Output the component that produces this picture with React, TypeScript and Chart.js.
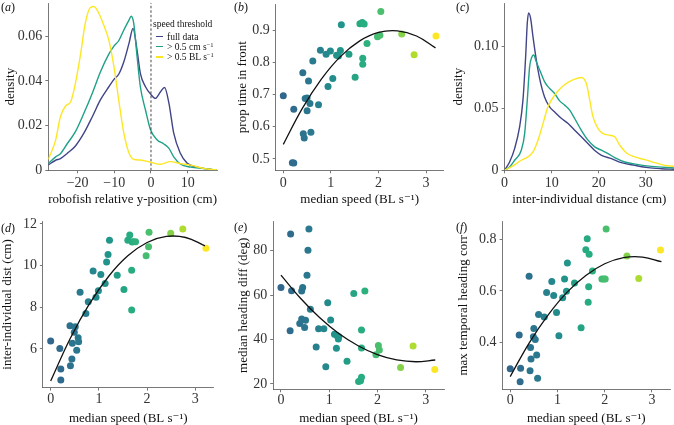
import React, { useEffect, useRef } from "react";
import { Chart, registerables } from "chart.js";

Chart.register(...registerables);

const SERIF = "'Liberation Serif', 'Times New Roman', 'DejaVu Serif', serif";

// ---------------- panel (a): robofish relative y-position densities
const relPosFull = [-28, -26.0, -24.7, -22.8, -20.6, -18.3, -16.0, -13.8, -11.5, -10.1, -8.8, -7.4, -6.0, -4.9, -3.8, -2.9, -1.5, -0.1, 1.2, 2.6, 3.7, 4.9, 6.2, 8.0, 9.9, 12.6, 17.1, 18];
const densRelPosFull = [0.0024, 0.0045, 0.0052, 0.0076, 0.0109, 0.0166, 0.024, 0.0315, 0.0374, 0.0407, 0.043, 0.0486, 0.0568, 0.0635, 0.0538, 0.0434, 0.0374, 0.0341, 0.0322, 0.0352, 0.0371, 0.03, 0.0166, 0.0076, 0.0031, 0.0014, 0.0003, 0.0002];
const relPosCm = [-28, -26.0, -24.7, -22.8, -20.6, -18.3, -16.0, -13.8, -11.5, -10.1, -8.8, -7.4, -6.0, -5.4, -4.7, -3.8, -2.9, -1.5, -0.1, 1.7, 3.5, 4.9, 6.2, 8.0, 10.8, 14.4, 17.1, 18];
const densRelPosCm = [0.0031, 0.006, 0.0074, 0.012, 0.0173, 0.0255, 0.0345, 0.044, 0.052, 0.0556, 0.058, 0.0628, 0.0672, 0.069, 0.0658, 0.051, 0.0374, 0.027, 0.018, 0.0136, 0.0118, 0.0098, 0.006, 0.0028, 0.0014, 0.0008, 0.0003, 0.0002];
const relPosBL = [-28, -26.0, -24.7, -23.3, -21.9, -20.6, -19.2, -17.9, -16.5, -15.6, -14.2, -12.9, -11.5, -10.1, -8.8, -7.4, -6.0, -4.7, -2.9, -0.1, 2.6, 5.3, 8.0, 10.8, 14.4, 17.1, 18];
const densRelPosBL = [0.0049, 0.0135, 0.024, 0.0288, 0.0307, 0.039, 0.052, 0.066, 0.0729, 0.0733, 0.0702, 0.065, 0.0583, 0.0464, 0.0315, 0.0166, 0.0077, 0.0049, 0.0046, 0.0036, 0.0027, 0.0039, 0.003, 0.0023, 0.0008, 0.0003, 0.0002];
const xTicksA = [-20, -10, 0, 10];
const xLabelsA = ["\u221220", "\u221210", "0", "10"];
const yTicksA = [0, 0.02, 0.04, 0.06];
const yLabelsA = ["0", "0.02", "0.04", "0.06"];
const thresholdLine = [0, 0.0749];

// ---------------- panel (b): proportion of time in front
const speedB = [0.0, 0.19, 0.22, 0.22, 0.41, 0.42, 0.44, 0.46, 0.5, 0.5, 0.53, 0.56, 0.58, 0.62, 0.74, 0.78, 0.9, 0.94, 0.99, 1.04, 1.12, 1.16, 1.2, 1.22, 1.38, 1.51, 1.61, 1.66, 1.7, 1.67, 1.67, 1.76, 1.98, 2.03, 2.05, 2.49, 2.75, 3.21];
const propFront = [0.696, 0.488, 0.487, 0.654, 0.768, 0.578, 0.565, 0.688, 0.689, 0.65, 0.742, 0.672, 0.583, 0.804, 0.668, 0.838, 0.825, 0.725, 0.835, 0.75, 0.822, 0.82, 0.837, 0.917, 0.825, 0.754, 0.92, 0.924, 0.919, 0.813, 0.794, 0.859, 0.88, 0.884, 0.958, 0.888, 0.824, 0.882];
const yTicksB = [0.5, 0.6, 0.7, 0.8, 0.9];
const yLabelsB = ["0.5", "0.6", "0.7", "0.8", "0.9"];

// ---------------- panel (c): inter-individual distance densities
const distFull = [0, 1.06, 2.13, 3.19, 3.9, 4.47, 4.82, 5.1, 5.53, 6.03, 6.74, 7.45, 8.51, 9.57, 10.6, 12.1, 13.5, 14.9, 16.3, 17.7, 19.1, 20.6, 22.7, 24.8, 27.7, 30.5, 33.3, 36];
const densDistFull = [0, 0.0067, 0.0175, 0.035, 0.0566, 0.0916, 0.1186, 0.127, 0.1226, 0.1078, 0.089, 0.074, 0.059, 0.0512, 0.0472, 0.0418, 0.0377, 0.0323, 0.027, 0.0216, 0.0162, 0.0121, 0.0094, 0.0062, 0.004, 0.0022, 0.0013, 0.0008];
const distCm = [0, 1.06, 2.13, 3.55, 4.26, 4.82, 5.32, 5.82, 6.17, 6.74, 7.45, 8.51, 9.57, 10.64, 11.7, 12.77, 13.83, 14.89, 16.31, 17.73, 19.15, 20.57, 21.99, 23.4, 25.53, 28.37, 31.2, 36];
const densDistCm = [0, 0.0027, 0.0081, 0.0162, 0.0296, 0.0566, 0.0836, 0.0916, 0.093, 0.0876, 0.081, 0.0714, 0.066, 0.062, 0.056, 0.0526, 0.0485, 0.0418, 0.0323, 0.0243, 0.0189, 0.0162, 0.0135, 0.0102, 0.0067, 0.0046, 0.0032, 0.0019];
const distBL = [0, 1.42, 3.55, 4.96, 6.03, 7.09, 8.16, 9.22, 10.64, 12.06, 13.48, 14.89, 16.31, 17.38, 18.09, 18.79, 19.86, 20.92, 22.34, 23.4, 24.47, 25.89, 27.66, 29.79, 31.91, 34.04, 36];
const densDistBL = [0, 0.0027, 0.0081, 0.0108, 0.0148, 0.0243, 0.0377, 0.0512, 0.0606, 0.0668, 0.0709, 0.0736, 0.0749, 0.07, 0.0566, 0.0431, 0.0337, 0.0296, 0.0283, 0.027, 0.0202, 0.014, 0.0108, 0.0086, 0.0062, 0.004, 0.0032];
const xTicksC = [0, 10, 20, 30];
const xLabelsC = ["0", "10", "20", "30"];
const yTicksC = [0, 0.05, 0.1];
const yLabelsC = ["0", "0.05", "0.10"];

// ---------------- panel (d): inter-individual distance vs speed
const speedD = [0, 0.19, 0.21, 0.21, 0.4, 0.41, 0.44, 0.45, 0.49, 0.51, 0.54, 0.57, 0.58, 0.61, 0.73, 0.78, 0.88, 0.94, 0.99, 1.04, 1.13, 1.16, 1.19, 1.22, 1.38, 1.52, 1.6, 1.64, 1.68, 1.68, 1.69, 1.71, 1.76, 1.98, 2.03, 2.04, 2.49, 2.74, 3.22];
const interDist = [6.38, 6.02, 5.04, 4.51, 7.12, 5.2, 5.52, 6.27, 6.8, 7.07, 5.94, 6.54, 6.35, 8.72, 7.7, 8.27, 9.74, 8.48, 8.8, 9.57, 9.14, 10.18, 10.54, 11.22, 9.54, 8.86, 11.22, 11.47, 7.87, 9.78, 11.14, 11.15, 11.15, 10.48, 10.91, 11.6, 11.55, 11.76, 10.83];
const yTicksD = [6, 8, 10, 12];
const yLabelsD = ["6", "8", "10", "12"];

// ---------------- panel (e): median heading difference vs speed
const speedE = [0, 0.2, 0.19, 0.22, 0.39, 0.43, 0.45, 0.43, 0.49, 0.51, 0.54, 0.56, 0.58, 0.61, 0.73, 0.78, 0.89, 0.93, 0.97, 1.03, 1.11, 1.15, 1.16, 1.19, 1.2, 1.37, 1.51, 1.61, 1.65, 1.67, 1.67, 1.67, 1.74, 1.97, 2.02, 2.04, 2.48, 2.74, 3.19];
const headingDiff = [63.4, 87.5, 44.0, 62.0, 47.2, 61.9, 63.4, 49.3, 45.4, 48.7, 68.9, 80.2, 89.8, 53.6, 36.7, 44.9, 44.9, 27.8, 56.6, 48.8, 42.4, 36.1, 41.8, 40.3, 41.3, 30.2, 60.7, 21.1, 21.4, 23.0, 44.3, 36.2, 61.9, 33.2, 37.3, 35.3, 27.4, 37.1, 26.5];
const yTicksE = [20, 40, 60, 80];
const yLabelsE = ["20", "40", "60", "80"];

// ---------------- panel (f): max temporal heading correlation vs speed
const speedF = [0, 0.19, 0.22, 0.21, 0.4, 0.42, 0.43, 0.44, 0.49, 0.5, 0.53, 0.56, 0.58, 0.6, 0.72, 0.77, 0.88, 0.92, 0.98, 1.03, 1.11, 1.15, 1.19, 1.21, 1.36, 1.5, 1.6, 1.63, 1.65, 1.66, 1.67, 1.74, 1.94, 1.98, 2.01, 2.03, 2.47, 2.72, 3.18];
const headingCorr = [0.296, 0.427, 0.297, 0.245, 0.657, 0.288, 0.379, 0.334, 0.421, 0.453, 0.41, 0.349, 0.258, 0.508, 0.498, 0.594, 0.637, 0.582, 0.515, 0.425, 0.573, 0.646, 0.598, 0.709, 0.631, 0.456, 0.761, 0.804, 0.555, 0.616, 0.743, 0.678, 0.646, 0.646, 0.646, 0.842, 0.736, 0.648, 0.76];
const yTicksF = [0.4, 0.6, 0.8];
const yLabelsF = ["0.4", "0.6", "0.8"];

// ---------------- quadratic fits
const fitSpeed = [0, 0.4, 0.8, 1.2, 1.6, 2.0, 2.4, 2.8, 3.2];
const fitPropFront = [0.545, 0.657, 0.748, 0.818, 0.866, 0.893, 0.898, 0.882, 0.845];
const fitInterDist = [4.46, 6.48, 8.15, 9.48, 10.47, 11.11, 11.4, 11.35, 10.95];
const fitHeadingDiff = [69.0, 58.7, 49.9, 42.7, 37.2, 33.2, 30.8, 30.0, 30.8];
const fitHeadingCorr = [0.265, 0.396, 0.505, 0.594, 0.66, 0.706, 0.73, 0.732, 0.714];

const speedTicks = [0, 1, 2, 3];
const speedLabels = ["0", "1", "2", "3"];

const legendLabels = ["full data", "> 0.5 cm s", "> 0.5 BL s"];
const legendSup = ["", "\u22121", "\u22121"];
const thresholdColours = ["#414487", "#1FA088", "#FDE725"];

// ---------------- helpers
const VIRIDIS = ["#440154", "#472D7B", "#3B528B", "#2C728E", "#21918C", "#28AE80", "#5EC962", "#ADDC30", "#FDE725"];
function hexRgb(h: string) {
  return [parseInt(h.slice(1, 3), 16), parseInt(h.slice(3, 5), 16), parseInt(h.slice(5, 7), 16)];
}
function speedColour(s: number): string {
  const u = Math.min(1, Math.max(0, s / 3.2));
  const t = 0.33 + 0.67 * Math.pow(u, 1.3);
  const p = t * 8;
  const i = Math.min(7, Math.floor(p));
  const f = p - i;
  const a = hexRgb(VIRIDIS[i]);
  const b = hexRgb(VIRIDIS[i + 1]);
  const c = a.map((v, k) => Math.round(v + (b[k] - v) * f));
  return `rgb(${c[0]},${c[1]},${c[2]})`;
}
const pts = (xs: number[], ys: number[]) => xs.map((x, i) => ({ x, y: ys[i] }));

function curve(xs: number[], ys: number[], colour: string, width = 1.4) {
  return {
    data: pts(xs, ys),
    showLine: true,
    borderColor: colour,
    backgroundColor: colour,
    borderWidth: width,
    pointRadius: 0,
    cubicInterpolationMode: "monotone",
  };
}
function fitLine(ys: number[]) {
  return {
    data: pts(fitSpeed, ys),
    showLine: true,
    borderColor: "#111",
    borderWidth: 1.3,
    pointRadius: 0,
    tension: 0.4,
  };
}
function dots(xs: number[], ys: number[]) {
  return {
    data: pts(xs, ys),
    pointRadius: 3.5,
    pointBorderWidth: 0,
    pointBackgroundColor: xs.map(speedColour),
    borderWidth: 0,
  };
}

type Rect = { x: number; y: number; w: number; h: number };
type Plot = { l: number; t: number; r: number; b: number };
type Spec = {
  canvas: Rect;
  plot: Plot;
  x: [number, number];
  y: [number, number];
  xTicks: number[];
  xLabels: string[];
  yTicks: number[];
  yLabels: string[];
  xTitle: string;
  yTitle: string;
  xTitlePad: number;
  yTitlePad: number;
  xTickPad: number;
  datasets: any[];
};

const TICK_SIZE = 14;
const TITLE_SIZE = 13;

function axis(isX: boolean, min: number, max: number, ticks: number[], labels: string[], title: string, titlePad: number, size: number, tickPad: number) {
  return {
    type: "linear",
    position: isX ? "bottom" : "left",
    min,
    max,
    afterBuildTicks: (s: any) => {
      s.ticks = ticks.map((v) => ({ value: v }));
    },
    afterFit: (s: any) => {
      if (isX) s.height = size;
      else s.width = size;
      s.paddingTop = 0;
      s.paddingBottom = 0;
      s.paddingLeft = 0;
      s.paddingRight = 0;
    },
    ticks: {
      callback: (_v: any, i: number) => labels[i],
      font: { family: SERIF, size: TICK_SIZE },
      color: "#333",
      padding: tickPad,
      autoSkip: false,
      maxRotation: 0,
      minRotation: 0,
    },
    grid: { display: true, drawOnChartArea: false, drawTicks: true, tickLength: 3, color: "#555", lineWidth: 0.8 },
    border: { display: true, color: "#555", width: 0.8 },
    title: {
      display: true,
      text: title,
      font: { family: SERIF, size: TITLE_SIZE },
      color: "#111",
      padding: isX ? { top: 0, bottom: titlePad } : { top: titlePad, bottom: 0 },
    },
  };
}

function buildConfig(s: Spec): any {
  const c = s.canvas;
  const p = s.plot;
  return {
    type: "scatter",
    data: { datasets: s.datasets },
    options: {
      responsive: false,
      maintainAspectRatio: false,
      animation: false,
      devicePixelRatio: 1,
      events: [],
      layout: { padding: { top: p.t - c.y, right: c.x + c.w - p.r, left: 0, bottom: 0 } },
      plugins: { legend: { display: false }, tooltip: { enabled: false } },
      scales: {
        x: axis(true, s.x[0], s.x[1], s.xTicks, s.xLabels, s.xTitle, s.xTitlePad, c.y + c.h - p.b, s.xTickPad),
        y: axis(false, s.y[0], s.y[1], s.yTicks, s.yLabels, s.yTitle, s.yTitlePad, p.l - c.x, 3),
      },
    },
  };
}

function Panel({ spec }: { spec: Spec }) {
  const ref = useRef<HTMLCanvasElement>(null);
  useEffect(() => {
    const chart = new Chart(ref.current as HTMLCanvasElement, buildConfig(spec));
    return () => chart.destroy();
  }, []);
  const c = spec.canvas;
  return (
    <canvas
      ref={ref}
      width={c.w}
      height={c.h}
      style={{ position: "absolute", left: c.x, top: c.y, width: c.w, height: c.h }}
    />
  );
}

const SPEED_TITLE = "median speed (BL s\u207B\u00B9)";

const specs: Spec[] = [
  {
    canvas: { x: 0, y: 0, w: 222, h: 212 },
    plot: { l: 48.3, t: 3, r: 217, b: 170.3 },
    x: [-28, 18],
    y: [0, 0.0749],
    xTicks: xTicksA, xLabels: xLabelsA, yTicks: yTicksA, yLabels: yLabelsA,
    xTitle: "robofish relative y-position (cm)", yTitle: "density",
    xTitlePad: 4.2, yTitlePad: 3.2, xTickPad: 1.3,
    datasets: [
      {
        data: pts([thresholdLine[0], thresholdLine[0]], [0, thresholdLine[1]]),
        showLine: true, borderColor: "#333", borderWidth: 0.9, borderDash: [2.5, 2], pointRadius: 0,
      },
      curve(relPosBL, densRelPosBL, thresholdColours[2]),
      curve(relPosCm, densRelPosCm, thresholdColours[1]),
      curve(relPosFull, densRelPosFull, thresholdColours[0]),
    ],
  },
  {
    canvas: { x: 222, y: 0, w: 226, h: 212 },
    plot: { l: 275.7, t: 2.9, r: 443.6, b: 170.3 },
    x: [-0.16, 3.37],
    y: [0.4645, 0.9815],
    xTicks: speedTicks, xLabels: speedLabels, yTicks: yTicksB, yLabels: yLabelsB,
    xTitle: SPEED_TITLE, yTitle: "prop time in front",
    xTitlePad: 4.2, yTitlePad: 12.9, xTickPad: 1.3,
    datasets: [fitLine(fitPropFront), dots(speedB, propFront)],
  },
  {
    canvas: { x: 448, y: 0, w: 226, h: 212 },
    plot: { l: 504.6, t: 3, r: 674, b: 170.3 },
    x: [0, 36],
    y: [0, 0.135],
    xTicks: xTicksC, xLabels: xLabelsC, yTicks: yTicksC, yLabels: yLabelsC,
    xTitle: "inter-individual distance (cm)", yTitle: "density",
    xTitlePad: 4.2, yTitlePad: 2.5, xTickPad: 1.3,
    datasets: [
      curve(distBL, densDistBL, thresholdColours[2]),
      curve(distCm, densDistCm, thresholdColours[1]),
      curve(distFull, densDistFull, thresholdColours[0]),
    ],
  },
  {
    canvas: { x: 0, y: 212, w: 222, h: 214 },
    plot: { l: 42.9, t: 221.4, r: 213.7, b: 387.6 },
    x: [-0.161, 3.381],
    y: [4.1475, 12.1225],
    xTicks: speedTicks, xLabels: speedLabels, yTicks: yTicksD, yLabels: yLabelsD,
    xTitle: SPEED_TITLE, yTitle: "inter-individual dist (cm)",
    xTitlePad: 0, yTitlePad: 0, xTickPad: 0.3,
    datasets: [fitLine(fitInterDist), dots(speedD, interDist)],
  },
  {
    canvas: { x: 222, y: 212, w: 226, h: 214 },
    plot: { l: 273.2, t: 221.4, r: 445.2, b: 389.3 },
    x: [-0.161, 3.381],
    y: [17.6, 93.2],
    xTicks: speedTicks, xLabels: speedLabels, yTicks: yTicksE, yLabels: yLabelsE,
    xTitle: SPEED_TITLE, yTitle: "median heading diff (deg)",
    xTitlePad: 0, yTitlePad: 13.5, xTickPad: 0,
    datasets: [fitLine(fitHeadingDiff), dots(speedE, headingDiff)],
  },
  {
    canvas: { x: 448, y: 212, w: 226, h: 214 },
    plot: { l: 502.6, t: 221.3, r: 672.3, b: 389.3 },
    x: [-0.161, 3.381],
    y: [0.2152, 0.8719],
    xTicks: speedTicks, xLabels: speedLabels, yTicks: yTicksF, yLabels: yLabelsF,
    xTitle: SPEED_TITLE, yTitle: "max temporal heading corr",
    xTitlePad: 0, yTitlePad: 7.5, xTickPad: 0,
    datasets: [fitLine(fitHeadingCorr), dots(speedF, headingCorr)],
  },
];

const panelLetters = ["a", "b", "c", "d", "e", "f"];
const letterPos = [
  [1, 1], [234, 1], [456, 1], [1, 222], [234, 221], [456, 221],
];

export default function App() {
  return (
    <div
      style={{
        position: "fixed",
        left: 0,
        top: 0,
        width: 674,
        height: 425,
        background: "#fff",
        overflow: "hidden",
        fontFamily: SERIF,
      }}
    >
      {specs.map((s, i) => (
        <Panel key={i} spec={s} />
      ))}
      {panelLetters.map((l, i) => (
        <div
          key={l}
          style={{ position: "absolute", left: letterPos[i][0], top: letterPos[i][1], fontSize: 12, lineHeight: "12px", color: "#111" }}
        >
          (<i>{l}</i>)
        </div>
      ))}
      <div style={{ position: "absolute", left: 153, top: 19, fontSize: 9.5, lineHeight: "10px", color: "#111", whiteSpace: "nowrap" }}>
        speed threshold
      </div>
      {legendLabels.map((lab, i) => (
        <div
          key={lab}
          style={{ position: "absolute", left: 156, top: 31.5 + i * 10.3, height: 10, display: "flex", alignItems: "center", fontSize: 9.5, color: "#111", whiteSpace: "nowrap" }}
        >
          <span style={{ display: "inline-block", width: 7, height: 1.4, background: thresholdColours[i], marginRight: 4 }} />
          <span>
            {lab}
            {legendSup[i] ? <sup style={{ fontSize: 6.5, lineHeight: 0, verticalAlign: "3px" }}>{legendSup[i]}</sup> : null}
          </span>
        </div>
      ))}
    </div>
  );
}
